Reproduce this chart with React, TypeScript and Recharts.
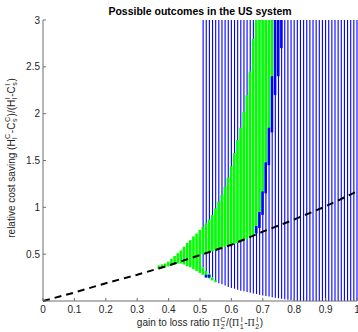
import { Bar, ComposedChart, Line, XAxis, YAxis } from "recharts";

// x grid used by the plot (0 .. 1, one column per 0.01)
const X_STEPS = 100;
const X_GRID = Array.from({ length: X_STEPS + 1 }, (_, i) => i / X_STEPS);

const X_TICKS = [0, 0.1, 0.2, 0.3, 0.4, 0.5, 0.6, 0.7, 0.8, 0.9, 1];
const Y_TICKS = [0.5, 1, 1.5, 2, 2.5, 3];
const Y_MAX = 3;

// dashed boundary
const DASH_X = [0, 0.1, 0.2, 0.3, 0.4, 0.5, 0.6, 0.7, 0.8, 0.9, 1];
const DASH_Y = [0, 0.09, 0.19, 0.28, 0.38, 0.49, 0.6, 0.74, 0.87, 1.01, 1.17];

// hatched blue region: lower edge per column, up to Y_MAX
const STRIPE_START = 0.51;
const STRIPE_BOTTOM = [
  0.36, 0.32, 0.29, 0.25, 0.21, 0.19, 0.18, 0.165, 0.15, 0.14,
  0.13, 0.12, 0.11, 0.105, 0.095, 0.088, 0.08, 0.074, 0.067, 0.06,
  0.053, 0.047, 0.04, 0.035, 0.03, 0.024, 0.018, 0.013, 0.007, 0,
  0, 0, 0, 0, 0, 0, 0, 0, 0, 0,
  0, 0, 0, 0, 0, 0, 0, 0, 0, 0,
];

// green region (main part)
const GREEN_START = 0.37;
const GREEN_BOTTOM = [
  0.34, 0.35, 0.36, 0.37, 0.38, 0.39, 0.4, 0.4, 0.39, 0.37,
  0.36, 0.34, 0.32, 0.3, 0.5, 0.51, 0.52, 0.53, 0.54, 0.55,
  0.56, 0.58, 0.59, 0.6, 0.61, 0.62, 0.64, 0.65, 0.66, 0.68,
  0.7, 0.8, 0.95, 1.17, 1.48, 1.85, 2.4,
];
const GREEN_TOP = [
  0.38, 0.39, 0.4, 0.42, 0.45, 0.48, 0.51, 0.54, 0.58, 0.62,
  0.65, 0.69, 0.72, 0.76, 0.79, 0.83, 0.87, 0.92, 0.99, 1.06,
  1.13, 1.22, 1.32, 1.44, 1.58, 1.72, 1.85, 2.02, 2.2, 2.45,
  2.8, 3, 3, 3, 3, 3, 3,
];

// green tip below the hatched region
const TIP_START = 0.51;
const TIP_BOTTOM = [0.28, 0.26, 0.24, 0.22, 0.2];
const TIP_TOP = [0.36, 0.32, 0.29, 0.25, 0.22];

// solid blue cells
const BLUE_X = [0.52, 0.53, 0.68, 0.69, 0.7, 0.71, 0.72, 0.73, 0.74, 0.75, 0.76];
const BLUE_BOTTOM = [0.25, 0.25, 0.72, 0.78, 0.92, 1.15, 1.45, 1.8, 2.2, 2.4, 2.7];
const BLUE_TOP = [0.28, 0.28, 0.8, 0.95, 1.17, 1.48, 1.85, 2.4, 3, 3, 3];

type Row = {
  x: number;
  stripe?: [number, number];
  green?: [number, number];
  tip?: [number, number];
  blue?: [number, number];
  dash?: number;
};

const col = (x: number) => Math.round(x * X_STEPS);

const rows: Row[] = X_GRID.map((x) => ({ x }));
STRIPE_BOTTOM.forEach((lo, i) => {
  rows[col(STRIPE_START) + i].stripe = [lo, Y_MAX];
});
GREEN_BOTTOM.forEach((lo, i) => {
  rows[col(GREEN_START) + i].green = [lo, GREEN_TOP[i]];
});
TIP_BOTTOM.forEach((lo, i) => {
  rows[col(TIP_START) + i].tip = [lo, TIP_TOP[i]];
});
BLUE_X.forEach((x, i) => {
  rows[col(x)].blue = [BLUE_BOTTOM[i], BLUE_TOP[i]];
});
DASH_X.forEach((x, i) => {
  rows[col(x)].dash = DASH_Y[i];
});

const FONT = '"Liberation Sans", Arial, sans-serif';
const AXIS_COLOR = "#6e6e6e";
const TEXT_COLOR = "#262626";
const GREEN = "#00ff00";
const BLUE = "#0000ff";

const AXIS_TICK = { fill: TEXT_COLOR, fontSize: 10, fontFamily: FONT } as const;
const noLabel = () => "";

function Scripts({ sup, sub }: { sup: string; sub: string }) {
  return (
    <span
      style={{
        display: "inline-flex",
        flexDirection: "column",
        fontSize: "0.72em",
        lineHeight: 0.95,
        verticalAlign: "middle",
        margin: "0 0.5px",
      }}
    >
      <span>{sup}</span>
      <span>{sub}</span>
    </span>
  );
}

const PI = <span style={{ fontFamily: '"Liberation Serif", serif' }}>Π</span>;

export default function App() {
  return (
    <div
      style={{
        position: "absolute",
        left: 0,
        top: 0,
        width: 358,
        height: 332,
        background: "#fff",
        fontFamily: FONT,
        color: TEXT_COLOR,
      }}
    >
      <ComposedChart
        width={358}
        height={332}
        data={rows}
        margin={{ top: 20, right: 1, bottom: 0, left: 0 }}
      >
        <XAxis
          xAxisId="main"
          dataKey="x"
          type="number"
          domain={[0, 1]}
          ticks={X_TICKS}
          interval={0}
          height={31}
          tickSize={-3}
          tickMargin={8}
          tick={AXIS_TICK}
          stroke={AXIS_COLOR}
        />
        <XAxis
          xAxisId="top"
          orientation="top"
          dataKey="x"
          type="number"
          domain={[0, 1]}
          ticks={X_TICKS}
          interval={0}
          height={0}
          tickSize={-3}
          tickFormatter={noLabel}
          stroke={AXIS_COLOR}
        />
        <XAxis xAxisId="g" dataKey="x" type="number" domain={[0, 1]} height={0} hide />
        <XAxis xAxisId="t" dataKey="x" type="number" domain={[0, 1]} height={0} hide />
        <XAxis xAxisId="b" dataKey="x" type="number" domain={[0, 1]} height={0} hide />
        <YAxis
          type="number"
          domain={[0, Y_MAX]}
          ticks={Y_TICKS}
          interval={0}
          width={43}
          tickSize={-3}
          tickMargin={6}
          tick={AXIS_TICK}
          stroke={AXIS_COLOR}
        />
        <YAxis
          yAxisId="right"
          orientation="right"
          type="number"
          domain={[0, Y_MAX]}
          ticks={Y_TICKS}
          interval={0}
          width={0}
          tickSize={-3}
          tickFormatter={noLabel}
          stroke={AXIS_COLOR}
        />
        <Bar
          xAxisId="main"
          dataKey="stripe"
          fill={BLUE}
          barSize={1.1}
          isAnimationActive={false}
        />
        <Bar
          xAxisId="g"
          dataKey="green"
          fill={GREEN}
          barSize={2.6}
          isAnimationActive={false}
        />
        <Bar
          xAxisId="t"
          dataKey="tip"
          fill={GREEN}
          barSize={2.6}
          isAnimationActive={false}
        />
        <Bar
          xAxisId="b"
          dataKey="blue"
          fill={BLUE}
          barSize={2.6}
          isAnimationActive={false}
        />
        <Line
          xAxisId="main"
          dataKey="dash"
          type="linear"
          stroke="#000"
          strokeWidth={2}
          strokeDasharray="7 5"
          dot={false}
          activeDot={false}
          connectNulls
          isAnimationActive={false}
        />
      </ComposedChart>

      <div
        style={{
          position: "absolute",
          left: 43,
          width: 314,
          top: 5,
          textAlign: "center",
          fontSize: 10.5,
          fontWeight: 700,
          color: "#000",
          whiteSpace: "nowrap",
        }}
      >
        Possible outcomes in the US system
      </div>

      <div
        style={{
          position: "absolute",
          left: 43,
          width: 314,
          top: 317,
          textAlign: "center",
          fontSize: 10,
          whiteSpace: "nowrap",
          lineHeight: "12px",
        }}
      >
        gain to loss ratio {PI}
        <Scripts sup="C" sub="2" />/({PI}
        <Scripts sup="I" sub="1" />-{PI}
        <Scripts sup="I" sub="2" />)
      </div>

      <div
        style={{
          position: "absolute",
          left: 12,
          top: 158,
          fontSize: 10,
          whiteSpace: "nowrap",
          lineHeight: "12px",
          transform: "translate(-50%, -50%) rotate(-90deg)",
        }}
      >
        relative cost saving (H
        <Scripts sup="C" sub="l" />-C
        <Scripts sup="C" sub="s" />)/(H
        <Scripts sup="I" sub="l" />-C
        <Scripts sup="I" sub="s" />)
      </div>
    </div>
  );
}
